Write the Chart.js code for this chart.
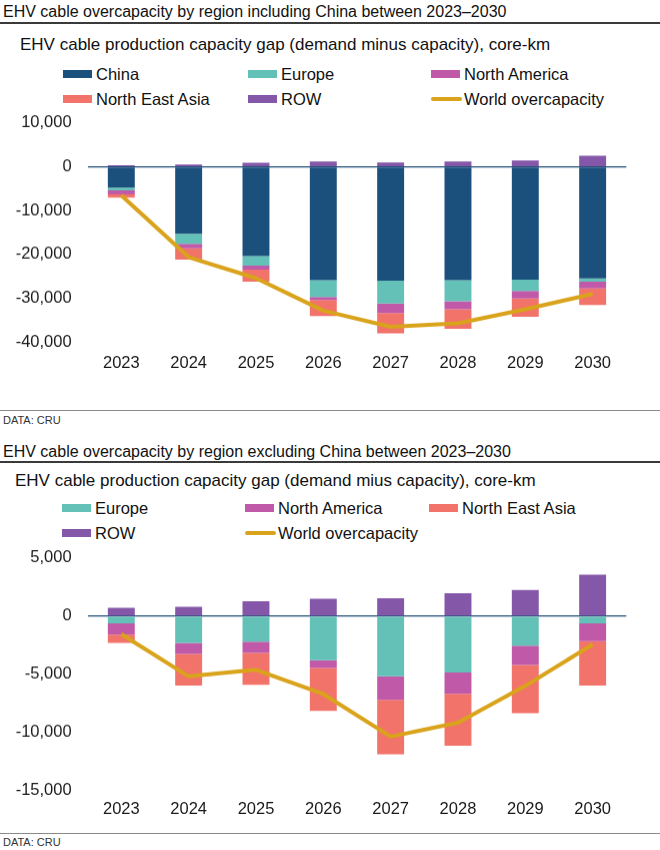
<!DOCTYPE html>
<html>
<head>
<meta charset="utf-8">
<script src="https://cdn.jsdelivr.net/npm/chart.js@4"></script>
<style>
  html, body { margin: 0; padding: 0; background: #fff; }
  body { width: 660px; height: 850px; position: relative; overflow: hidden;
         font-family: 'Liberation Sans', Arial, sans-serif; color: #111; }
  .abs { position: absolute; white-space: nowrap; }
  .title { font-size: 16px; line-height: 20px; }
  .sub { font-size: 17px; line-height: 20px; }
  .rule { position: absolute; left: 0; width: 660px; }
  .dark { height: 1.5px; background: #3a3a3a; }
  .light { height: 1px; background: #8a8a8a; }
  .src { font-size: 11px; line-height: 14px; color: #333; }
  .leg { position: absolute; font-size: 16.5px; line-height: 20px; white-space: nowrap; }
  .sw { position: absolute; }
  .box { position: absolute; left: 0; width: 660px; }
</style>
</head>
<body>
<div class="abs title" style="left:3px; top:2px;">EHV cable overcapacity by region including China between 2023–2030</div>
<div class="rule dark" style="top:22px;"></div>
<div class="abs sub" style="left:20px; top:35px;">EHV cable production capacity gap (demand minus capacity), core-km</div>
<div id="legendTop"></div>
<div class="box" style="top:97.4px; height:284.6px;"><canvas id="chartTop"></canvas></div>
<div class="rule light" style="top:410px;"></div>
<div class="abs src" style="left:3px; top:413px;">DATA: CRU</div>

<div class="abs title" style="left:3px; top:442px;">EHV cable overcapacity by region excluding China between 2023–2030</div>
<div class="rule dark" style="top:461px;"></div>
<div class="abs sub" style="left:15px; top:471px;">EHV cable production capacity gap (demand mius capacity), core-km</div>
<div id="legendBottom"></div>
<div class="box" style="top:532.4px; height:287.6px;"><canvas id="chartBottom"></canvas></div>
<div class="rule light" style="top:833px;"></div>
<div class="abs src" style="left:3px; top:835px;">DATA: CRU</div>

<script>
const years = ['2023', '2024', '2025', '2026', '2027', '2028', '2029', '2030'];

// including China, core-km
const chinaIn = [-4730, -15280, -20330, -25830, -25990, -25830, -25760, -25460];
const europeIn = [-620, -2290, -2220, -3830, -5210, -4820, -2530, -760];
const northAmericaIn = [-910, -1010, -920, -690, -2130, -1830, -1760, -1540];
const northEastAsiaIn = [-760, -2590, -2750, -3670, -4660, -4450, -4130, -3740];
const rowIn = [390, 550, 920, 1240, 1010, 1240, 1470, 2520];
const worldIn = [-6500, -20600, -25400, -32800, -36500, -35700, -32500, -29000];

// excluding China, core-km
const europeEx = [-630, -2300, -2190, -3800, -5180, -4840, -2530, -630];
const northAmericaEx = [-950, -950, -970, -660, -2020, -1840, -1670, -1530];
const northEastAsiaEx = [-720, -2730, -2740, -3680, -4680, -4460, -4140, -3820];
const rowEx = [720, 810, 1270, 1500, 1530, 1960, 2250, 3570];
const worldEx = [-1550, -5180, -4620, -6700, -10360, -9160, -6000, -2430];

const topTicks = { min: -40000, max: 10000, step: 10000 };
const bottomTicks = { min: -15000, max: 5000, step: 5000 };

const colors = {
  China: '#1b4f7c',
  Europe: '#64c1b8',
  'North America': '#c05aa8',
  'North East Asia': '#f2736a',
  ROW: '#8457a8',
  'World overcapacity': '#d9a31c'
};

Chart.defaults.font.family = "'Liberation Sans', Arial, sans-serif";
Chart.defaults.font.size = 16.5;
Chart.defaults.color = '#1a1a1a';

function bar(label, data) {
  return {
    type: 'bar', label, data, stack: 'regions', order: 1,
    backgroundColor: colors[label], borderWidth: 0,
    barPercentage: 0.4, categoryPercentage: 1.0
  };
}

function line(label, data) {
  return {
    type: 'line', label, data, stack: 'world', order: 0,
    borderColor: colors[label], borderWidth: 4, pointRadius: 0,
    tension: 0, fill: false, borderJoinStyle: 'round'
  };
}

// legend drawn as html, three columns like the original
function buildLegend(id, datasets, top, cols) {
  const box = document.getElementById(id);
  datasets.forEach((ds, i) => {
    const col = i % 3, row = Math.floor(i / 3);
    const cy = top + row * 24.5;
    const x = cols[col];
    const sw = document.createElement('div');
    sw.className = 'sw';
    if (ds.type === 'line') {
      sw.style.cssText = `left:${x}px; top:${cy - 1.5}px; width:31px; height:3.5px; background:${ds.borderColor}; border-radius:2px;`;
    } else {
      sw.style.cssText = `left:${x}px; top:${cy - 4}px; width:29px; height:8px; background:${ds.backgroundColor};`;
    }
    const tx = document.createElement('div');
    tx.className = 'leg';
    tx.style.left = (x + 33) + 'px';
    tx.style.top = (cy - 10) + 'px';
    tx.textContent = ds.label;
    box.appendChild(sw);
    box.appendChild(tx);
  });
}

function makeChart(id, datasets, ticks, xAxisH, labelPad) {
  const ctx = document.getElementById(id).getContext('2d');
  return new Chart(ctx, {
    data: { labels: years, datasets },
    options: {
      responsive: true,
      maintainAspectRatio: false,
      animation: false,
      layout: { padding: { top: 0, right: 33.7, bottom: 0, left: 0 } },
      plugins: { legend: { display: false }, tooltip: { enabled: false } },
      scales: {
        x: {
          stacked: true,
          offset: true,
          grid: { display: false },
          border: { display: false },
          ticks: { padding: labelPad, maxRotation: 0 },
          afterFit: s => { s.height = xAxisH; }
        },
        y: {
          stacked: true,
          min: ticks.min,
          max: ticks.max,
          border: { display: false },
          grid: {
            drawTicks: false,
            lineWidth: 1.3,
            // only the zero line is visible
            color: c => (c.tick && c.tick.value === 0) ? '#1f4e79' : 'rgba(0,0,0,0)'
          },
          ticks: {
            stepSize: ticks.step,
            padding: 16,
            callback: v => v.toLocaleString('en-US')
          },
          afterFit: s => { s.width = 87.65; }
        }
      }
    }
  });
}

const topSets = [
  bar('China', chinaIn),
  bar('Europe', europeIn),
  bar('North America', northAmericaIn),
  bar('North East Asia', northEastAsiaIn),
  bar('ROW', rowIn),
  line('World overcapacity', worldIn)
];

const bottomSets = [
  bar('Europe', europeEx),
  bar('North America', northAmericaEx),
  bar('North East Asia', northEastAsiaEx),
  bar('ROW', rowEx),
  line('World overcapacity', worldEx)
];

buildLegend('legendTop', topSets, 74, [63, 248, 431]);
buildLegend('legendBottom', bottomSets, 508.3, [62, 245, 429]);

makeChart('chartTop', topSets, topTicks, 40.3, 3);
makeChart('chartBottom', bottomSets, bottomTicks, 30, 1);
</script>
</body>
</html>
